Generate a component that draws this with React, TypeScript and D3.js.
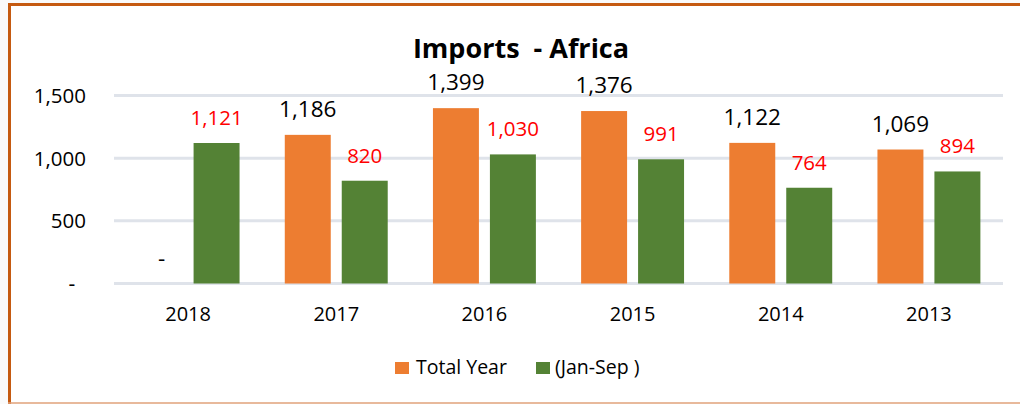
import React from "react";
import * as d3 from "d3";

const categories = ["2018", "2017", "2016", "2015", "2014", "2013"];
const totalYear: (number | null)[] = [null, 1186, 1399, 1376, 1122, 1069];
const janSep: number[] = [1121, 820, 1030, 991, 764, 894];
const seriesNames = ["Total Year", "(Jan-Sep )"];
const yTicks = [0, 500, 1000, 1500];

const W = 1020;
const H = 404;
const FONT = "'Open Sans', Calibri, Carlito, Lato, sans-serif";
const ORANGE = "#ED7D31";
const GREEN = "#548235";
const GRID = "#DFE3EA";

export default function App() {
  const x = d3.scaleBand<string>().domain(categories).range([114, 1003]).paddingInner(0).paddingOuter(0);
  const inner = d3
    .scaleBand<string>()
    .domain(seriesNames)
    .range([0, x.bandwidth()])
    .paddingInner(0.193)
    .paddingOuter(0.397);
  const y = d3.scaleLinear().domain([0, 1500]).range([283.5, 95.5]);
  const fmt = d3.format(",");

  return (
    <svg
      width={W}
      height={H}
      style={{ position: "absolute", left: 0, top: 0, background: "#fff" }}
      fontFamily={FONT}
    >
      <rect x={0} y={0} width={W} height={H} fill="#fafafa" />
      <rect x={8} y={3} width={W - 8} height={H - 3} fill="#ffffff" />
      {/* frame */}
      <line x1={9.5} y1={3} x2={9.5} y2={H} stroke="#C55A11" strokeWidth={3} />
      <line x1={8} y1={4.5} x2={W} y2={4.5} stroke="#C55A11" strokeWidth={3} />
      <line x1={8} y1={403} x2={W} y2={403} stroke="#E0A27A" strokeWidth={1.5} />

      {/* title */}
      <text
        x={521}
        y={57.5}
        textAnchor="middle"
        fontSize={27}
        fontWeight="bold"
        fill="#000"
        style={{ whiteSpace: "pre" }}
      >
        {"Imports  - Africa"}
      </text>

      {/* gridlines */}
      {yTicks.map((t) => (
        <line key={t} x1={114} x2={1003} y1={y(t)} y2={y(t)} stroke={GRID} strokeWidth={3} />
      ))}
      {/* y tick labels */}
      {yTicks.map((t) =>
        t === 0 ? (
          <text key={t} x={72} y={y(t) + 7} textAnchor="middle" fontSize={21} fill="#000">
            -
          </text>
        ) : (
          <text key={t} x={86} y={y(t) + 7.5} textAnchor="end" fontSize={20.5} fill="#000">
            {fmt(t)}
          </text>
        )
      )}

      {/* bars */}
      {categories.map((c, i) => {
        const x0 = x(c)!;
        const tv = totalYear[i];
        const jv = janSep[i];
        const xt = x0 + inner(seriesNames[0])!;
        const xj = x0 + inner(seriesNames[1])!;
        const bw = inner.bandwidth();
        return (
          <g key={c}>
            {tv !== null && (
              <rect x={xt} y={y(tv)} width={bw} height={y(0) - y(tv)} fill={ORANGE} />
            )}
            <rect x={xj} y={y(jv)} width={bw} height={y(0) - y(jv)} fill={GREEN} />
            <text
              x={xt + bw / 2 + (tv === null ? 2 : 0)}
              y={y(tv ?? 0) - 18}
              textAnchor="middle"
              fontSize={22.5}
              fill="#000"
            >
              {tv === null ? "-" : fmt(tv)}
            </text>
            <text x={xj + bw / 2} y={y(jv) - 18} textAnchor="middle" fontSize={20.5} fill="#FF0000">
              {fmt(jv)}
            </text>
            <text x={x0 + x.bandwidth() / 2} y={320.5} textAnchor="middle" fontSize={20} fill="#000">
              {c}
            </text>
          </g>
        );
      })}

      {/* legend */}
      <rect x={395} y={362} width={14} height={12} fill={ORANGE} />
      <text x={416} y={374} fontSize={19.5} fill="#000">
        {seriesNames[0]}
      </text>
      <rect x={536} y={362} width={14} height={12} fill={GREEN} />
      <text x={555} y={374} fontSize={19.5} fill="#000" style={{ whiteSpace: "pre" }}>
        {seriesNames[1]}
      </text>
    </svg>
  );
}
